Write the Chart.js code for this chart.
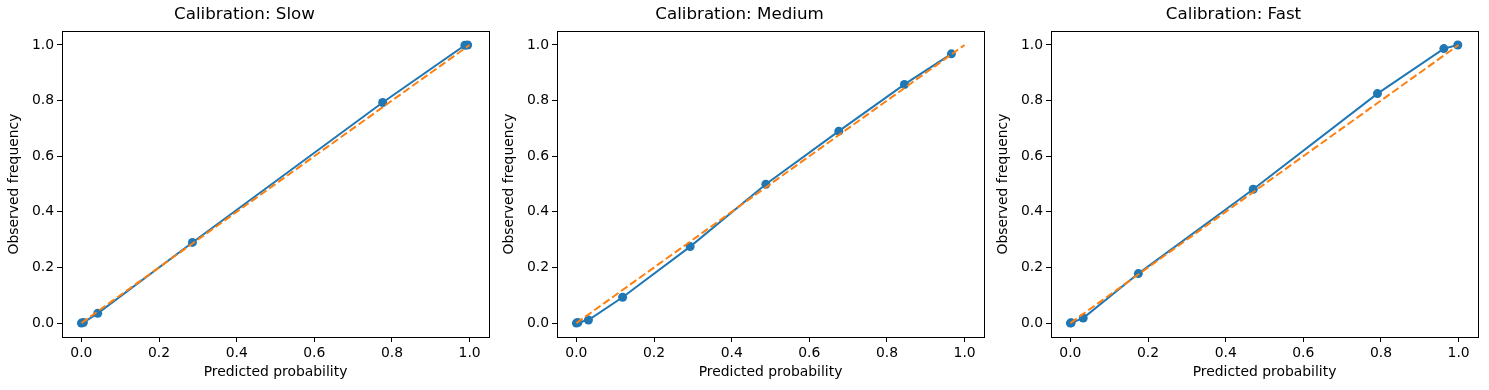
<!DOCTYPE html>
<html>
<head>
<meta charset="utf-8">
<script src="https://cdn.jsdelivr.net/npm/chart.js@4.4.1/dist/chart.umd.min.js"></script>
<style>
  body { margin: 0; background: #fff; }
  .panel { position: absolute; top: 0; width: 495px; height: 390px; }
</style>
</head>
<body>
<div class="panel" style="left:0px"><canvas id="slowChart"></canvas></div>
<div class="panel" style="left:495px"><canvas id="mediumChart"></canvas></div>
<div class="panel" style="left:989px"><canvas id="fastChart"></canvas></div>
<script>
// calibration points
const slowPred = [0.0, 0.005, 0.042, 0.286, 0.776, 0.988, 0.995];
const slowObs  = [0.0, 0.002, 0.035, 0.290, 0.793, 0.999, 1.0];

const mediumPred = [0.0, 0.004, 0.031, 0.119, 0.293, 0.488, 0.676, 0.845, 0.966];
const mediumObs  = [0.0, 0.002, 0.011, 0.093, 0.275, 0.499, 0.690, 0.858, 0.968];

const fastPred = [0.0, 0.002, 0.033, 0.175, 0.471, 0.791, 0.962, 0.998];
const fastObs  = [0.0, 0.001, 0.018, 0.178, 0.481, 0.825, 0.987, 1.0];

const diagonal = [0, 1];
const tickVals = [0, 0.2, 0.4, 0.6, 0.8, 1.0];

const FONT = 'DejaVu Sans';
const BLUE = '#1f77b4';
const ORANGE = '#ff7f0e';

function toPoints(xs, ys) {
    const out = [];
    for (let i = 0; i < xs.length; ++i) {
        out.push({x: xs[i], y: ys[i]});
    }
    return out;
}

// matplotlib style box round the axes
const frame = {
    id: 'frame',
    afterDraw(chart) {
        const a = chart.chartArea;
        const ctx = chart.ctx;
        ctx.save();
        ctx.strokeStyle = '#000';
        ctx.lineWidth = 1;
        ctx.strokeRect(Math.round(a.left) + 0.5, Math.round(a.top) + 0.5,
            Math.round(a.right - a.left), Math.round(a.bottom - a.top));
        ctx.restore();
    }
};

function axisOpts(label, isY) {
    return {
        type: 'linear',
        min: -0.05,
        max: 1.05,
        afterBuildTicks: axis => { axis.ticks = tickVals.map(v => ({value: v})); },
        afterFit: axis => {
            if (isY) axis.width = 62; else axis.height = 53;
        },
        grid: {
            drawOnChartArea: false,
            drawTicks: true,
            tickLength: 5,
            color: '#000',
            tickWidth: 1
        },
        border: { display: false },
        ticks: {
            color: '#000',
            font: { family: FONT, size: 13.9 },
            padding: 3,
            maxRotation: 0,
            callback: v => Number(v).toFixed(1)
        },
        title: {
            display: true,
            text: label,
            color: '#000',
            font: { family: FONT, size: 13.9 },
            padding: isY ? { top: 6, bottom: 0 } : { top: 2, bottom: 9 }
        }
    };
}

function makeChart(id, title, xs, ys) {
    const config = {
        type: 'scatter',
        data: {
            datasets: [{
                label: 'Perfect',
                data: toPoints(diagonal, diagonal),
                showLine: true,
                borderColor: ORANGE,
                borderWidth: 2,
                borderDash: [7.7, 3.3],
                pointRadius: 0,
                order: 0
            }, {
                label: 'Model',
                data: toPoints(xs, ys),
                showLine: true,
                borderColor: BLUE,
                backgroundColor: BLUE,
                borderWidth: 2,
                pointRadius: 4.5,
                pointBorderWidth: 0,
                order: 1
            }]
        },
        options: {
            responsive: true,
            maintainAspectRatio: false,
            animation: false,
            layout: { padding: { left: 0, right: 6, top: 0, bottom: 0 } },
            plugins: {
                legend: { display: false },
                tooltip: { enabled: false },
                title: {
                    display: true,
                    text: title,
                    color: '#000',
                    font: { family: FONT, size: 16.7, weight: 'normal' },
                    padding: { top: 5, bottom: 6 }
                }
            },
            scales: {
                x: axisOpts('Predicted probability', false),
                y: axisOpts('Observed frequency', true)
            }
        },
        plugins: [frame]
    };
    return new Chart(document.getElementById(id), config);
}

makeChart('slowChart', 'Calibration: Slow', slowPred, slowObs);
makeChart('mediumChart', 'Calibration: Medium', mediumPred, mediumObs);
makeChart('fastChart', 'Calibration: Fast', fastPred, fastObs);
</script>
</body>
</html>
